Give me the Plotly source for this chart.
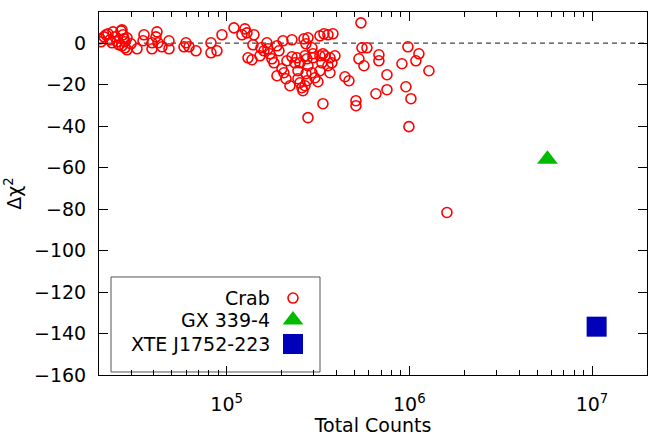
import plotly.graph_objects as go

# ---- data ----
crab_counts = [
    20250, 20510, 21300, 21840, 22400, 22970, 23560, 23860, 24470, 25090,
    25730, 26380, 26720, 27060, 27400, 27750, 28460, 26720, 27750, 28460,
    29940, 32280, 35270, 34820, 39010, 39010, 41530, 41020, 42060, 44240,
    48320, 48320, 58390, 59890, 62190, 67910, 82040, 82040, 88470, 94240,
    109600, 125900, 129100, 121200, 141000, 139200, 130800, 137500, 152100, 154000,
    166100, 160000, 168200, 172500, 176900, 181500, 188500, 200700, 205800, 211100,
    203200, 222000, 227700, 264900, 278600, 271600, 323900, 340700, 358300, 381600,
    227700, 242500, 236400, 251800, 245500, 245500, 251800, 258200, 261500, 268200,
    275100, 278600, 271600, 275100, 268200, 292900, 296600, 296600, 292900, 304200,
    315900, 323900, 332200, 336500, 345000, 358300, 367500, 376800, 391300, 367500,
    323900, 336500, 278600, 444100, 467000, 188500, 193300, 213700, 510200, 510200,
    543200, 550200, 585900, 529700, 564100, 681300, 681300, 656100, 754000, 754000,
    910600, 982200, 1086000, 1128000, 957700, 1020000, 1280000, 994500, 1606000,
]
crab_dchi2 = [
    2.07, 0.63, 3.03, 4.00, 4.48, 1.59, 0.15, 5.44, 3.03, 0.63,
    -0.82, 5.92, 6.40, 4.00, 2.07, 0.63, 2.55, -1.30, -2.26, -3.22,
    -0.34, -2.74, 4.00, 1.11, 0.15, -2.74, 5.44, 3.03, 0.15, -1.78,
    1.11, -2.74, -1.78, 0.15, -1.78, -3.70, 0.15, -4.67, -3.70, 4.00,
    7.36, 6.88, 4.96, 4.00, 4.00, -0.82, -7.07, -8.03, -6.11, -2.26,
    0.15, -3.70, -2.74, -5.15, -7.55, -9.48, -15.73, -12.37, -14.29, -17.18,
    1.11, -20.55, 1.59, 2.07, 2.55, -0.34, 3.51, 4.48, 4.00, 4.48,
    -6.59, -7.07, -9.48, -9.48, -13.33, -17.18, -19.10, -21.51, -22.95, -6.11,
    -7.55, -10.92, -14.77, -18.14, -20.55, -2.26, -5.15, -7.07, -14.29, -16.70,
    -18.62, -6.11, -9.48, -5.15, -6.11, -10.92, -7.07, -9.48, -6.11, -14.29,
    -13.33, -29.21, -35.94, -16.22, -18.14, -1.30, -3.70, -8.52, -27.76, -30.17,
    9.77, -2.26, -2.26, -7.55, -10.92, -5.63, -8.52, -24.40, -15.25, -22.47,
    -9.96, -1.78, -8.52, -5.15, -21.03, -26.80, -13.33, -40.27, -81.66,
]
gx_counts = [5.7e6]
gx_dchi2 = [-56.0]
xte_counts = [1.06e7]
xte_dchi2 = [-136.7]

series_names = ["Crab", "GX 339-4", "XTE J1752-223"]
x_tickvals = [1e5, 1e6, 1e7]
x_ticktext = ["10<sup>5</sup>", "10<sup>6</sup>", "10<sup>7</sup>"]
x_minor = [m * 10 ** e for e in (4, 5, 6) for m in range(2, 10)] + [2e7]
y_tickvals = [0, -20, -40, -60, -80, -100, -120, -140, -160]

FONT = "DejaVu Sans"
RED = "#ff0000"
GREEN = "#00bb00"
BLUE = "#0000bb"

fig = go.Figure()

fig.add_trace(go.Scatter(
    x=crab_counts, y=crab_dchi2, mode="markers", name=series_names[0],
    marker=dict(symbol="circle-open", size=10, color=RED, line=dict(width=1.6, color=RED)),
    showlegend=False,
))
fig.add_trace(go.Scatter(
    x=gx_counts, y=gx_dchi2, mode="markers", name=series_names[1],
    marker=dict(symbol="triangle-up", size=18, color=GREEN, line=dict(width=0)),
    showlegend=False,
))
fig.add_trace(go.Scatter(
    x=xte_counts, y=xte_dchi2, mode="markers", name=series_names[2],
    marker=dict(symbol="square", size=20, color=BLUE, line=dict(width=0)),
    showlegend=False,
))

# ---- hand-made key (text right-aligned, symbol on the right) ----
key_rows_y = [0.212, 0.1515, 0.0854]
key_sym_x = 0.354
key_text_x = 0.3157
fig.add_trace(go.Scatter(
    x=[key_sym_x], y=[key_rows_y[0]], xaxis="x2", yaxis="y2", mode="markers",
    marker=dict(symbol="circle-open", size=10, color=RED, line=dict(width=1.6, color=RED)),
    showlegend=False, hoverinfo="skip",
))
fig.add_trace(go.Scatter(
    x=[key_sym_x], y=[key_rows_y[1]], xaxis="x2", yaxis="y2", mode="markers",
    marker=dict(symbol="triangle-up", size=18, color=GREEN, line=dict(width=0)),
    showlegend=False, hoverinfo="skip",
))
fig.add_trace(go.Scatter(
    x=[key_sym_x], y=[key_rows_y[2]], xaxis="x2", yaxis="y2", mode="markers",
    marker=dict(symbol="square", size=20, color=BLUE, line=dict(width=0)),
    showlegend=False, hoverinfo="skip",
))
for name, yy in zip(series_names, key_rows_y):
    fig.add_annotation(
        x=key_text_x, y=yy, xref="paper", yref="paper", text=name, showarrow=False,
        xanchor="right", yanchor="middle", font=dict(family=FONT, size=19, color="#000000"),
    )
fig.add_shape(type="rect", xref="paper", yref="paper", x0=0.0219, x1=0.4033, y0=0.0083, y1=0.27,
              line=dict(color="#555555", width=1), fillcolor="rgba(0,0,0,0)", layer="below")

# zero line
fig.add_shape(type="line", xref="paper", yref="y", x0=0, x1=1, y0=0, y1=0,
              line=dict(color="#444444", width=1.2, dash="5px,4px"), layer="below")

fig.update_layout(
    width=648, height=436,
    margin=dict(l=99, r=1, t=12, b=61, autoexpand=False),
    paper_bgcolor="white", plot_bgcolor="white",
    font=dict(family=FONT, size=19, color="#000000"),
    showlegend=False,
    xaxis=dict(
        type="log", range=[4.30103, 7.30103], automargin=False,
        tickmode="array", tickvals=x_tickvals, ticktext=x_ticktext,
        ticks="inside", ticklen=9, tickwidth=1, tickcolor="#000000",
        showline=True, linecolor="#000000", linewidth=1, mirror="ticks",
        showgrid=False, zeroline=False,
        minor=dict(tickmode="array", tickvals=x_minor, ticks="inside", ticklen=5,
                   tickwidth=1, tickcolor="#000000", showgrid=False),
        ticklabelstandoff=12,
        tickfont=dict(family=FONT, size=19),
        title=dict(text="Total Counts", font=dict(family=FONT, size=19), standoff=4),
    ),
    yaxis=dict(
        range=[-160, 15], automargin=False,
        tickmode="array", tickvals=y_tickvals,
        ticks="inside", ticklen=9, tickwidth=1, tickcolor="#000000",
        showline=True, linecolor="#000000", linewidth=1, mirror="ticks",
        showgrid=False, zeroline=False,
        ticklabelstandoff=8,
        tickfont=dict(family=FONT, size=19),
        title=dict(text="Δχ<sup>2</sup>", font=dict(family=FONT, size=19), standoff=7),
    ),
    xaxis2=dict(overlaying="x", range=[0, 1], visible=False),
    yaxis2=dict(overlaying="y", range=[0, 1], visible=False),
)

fig.write_html("out.html", config={"displayModeBar": False},
               post_script="document.body.style.margin='0';document.body.style.overflow='hidden';")
